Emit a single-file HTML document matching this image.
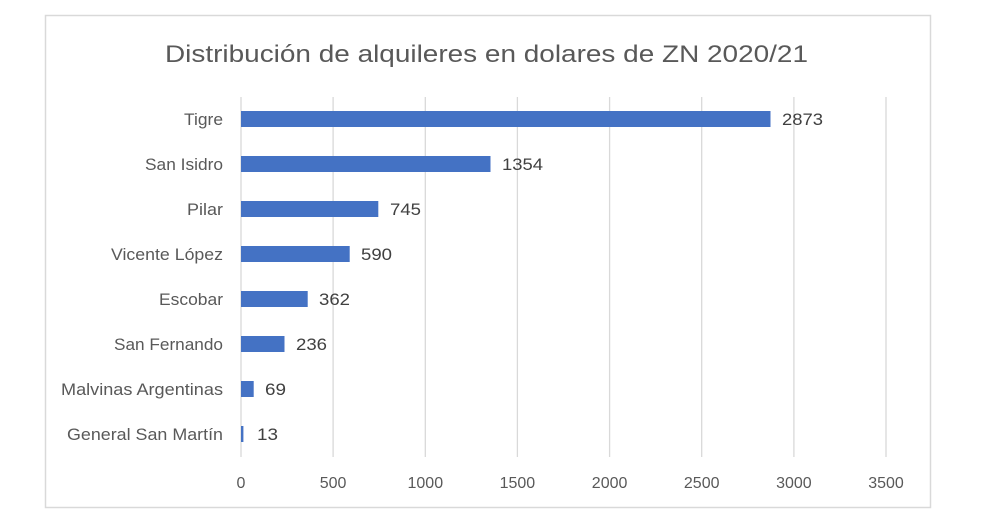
<!DOCTYPE html>
<html><head><meta charset="utf-8"><style>
html,body{margin:0;padding:0;background:#fff;}
</style></head><body>
<svg width="989" height="520" xmlns="http://www.w3.org/2000/svg" font-family="Liberation Sans, DejaVu Sans, sans-serif">
<rect x="0" y="0" width="989" height="520" fill="#fff"/>
<rect x="45.5" y="15.5" width="885" height="492" fill="#fff" stroke="#d9d9d9" stroke-width="1.5"/>
<text x="165" y="62" font-size="24" fill="#595959" textLength="643" lengthAdjust="spacingAndGlyphs">Distribución de alquileres en dolares de ZN 2020/21</text>
<g stroke="#d9d9d9" stroke-width="1.3">
<line x1="333.1" y1="97" x2="333.1" y2="457"/>
<line x1="425.3" y1="97" x2="425.3" y2="457"/>
<line x1="517.4" y1="97" x2="517.4" y2="457"/>
<line x1="609.6" y1="97" x2="609.6" y2="457"/>
<line x1="701.7" y1="97" x2="701.7" y2="457"/>
<line x1="793.9" y1="97" x2="793.9" y2="457"/>
<line x1="886" y1="97" x2="886" y2="457"/>
<line x1="241" y1="97" x2="241" y2="457"/>
</g>
<g fill="#4472c4">
<rect x="241" y="111" width="529.5" height="16"/>
<rect x="241" y="156" width="249.5" height="16"/>
<rect x="241" y="201" width="137.3" height="16"/>
<rect x="241" y="246" width="108.7" height="16"/>
<rect x="241" y="291" width="66.7" height="16"/>
<rect x="241" y="336" width="43.5" height="16"/>
<rect x="241" y="381" width="12.7" height="16"/>
<rect x="241" y="426" width="2.4" height="16"/>
</g>
<g font-size="16.5" fill="#404040" lengthAdjust="spacingAndGlyphs">
<text x="782" y="125" textLength="41" lengthAdjust="spacingAndGlyphs">2873</text>
<text x="502" y="170" textLength="41" lengthAdjust="spacingAndGlyphs">1354</text>
<text x="390" y="215" textLength="31" lengthAdjust="spacingAndGlyphs">745</text>
<text x="361" y="260" textLength="31" lengthAdjust="spacingAndGlyphs">590</text>
<text x="319" y="305" textLength="31" lengthAdjust="spacingAndGlyphs">362</text>
<text x="296" y="350" textLength="31" lengthAdjust="spacingAndGlyphs">236</text>
<text x="265" y="395" textLength="21" lengthAdjust="spacingAndGlyphs">69</text>
<text x="257" y="440" textLength="21" lengthAdjust="spacingAndGlyphs">13</text>
</g>
<g font-size="16.5" fill="#595959">
<text x="184" y="125" textLength="39" lengthAdjust="spacingAndGlyphs">Tigre</text>
<text x="145" y="170" textLength="78" lengthAdjust="spacingAndGlyphs">San Isidro</text>
<text x="187" y="215" textLength="36" lengthAdjust="spacingAndGlyphs">Pilar</text>
<text x="111" y="260" textLength="112" lengthAdjust="spacingAndGlyphs">Vicente López</text>
<text x="159" y="305" textLength="64" lengthAdjust="spacingAndGlyphs">Escobar</text>
<text x="114" y="350" textLength="109" lengthAdjust="spacingAndGlyphs">San Fernando</text>
<text x="61" y="395" textLength="162" lengthAdjust="spacingAndGlyphs">Malvinas Argentinas</text>
<text x="67" y="440" textLength="156" lengthAdjust="spacingAndGlyphs">General San Martín</text>
</g>
<g font-size="16" fill="#595959" text-anchor="middle">
<text x="241" y="488">0</text>
<text x="333.1" y="488">500</text>
<text x="425.3" y="488">1000</text>
<text x="517.4" y="488">1500</text>
<text x="609.6" y="488">2000</text>
<text x="701.7" y="488">2500</text>
<text x="793.9" y="488">3000</text>
<text x="886" y="488">3500</text>
</g>
</svg>
</body></html>
